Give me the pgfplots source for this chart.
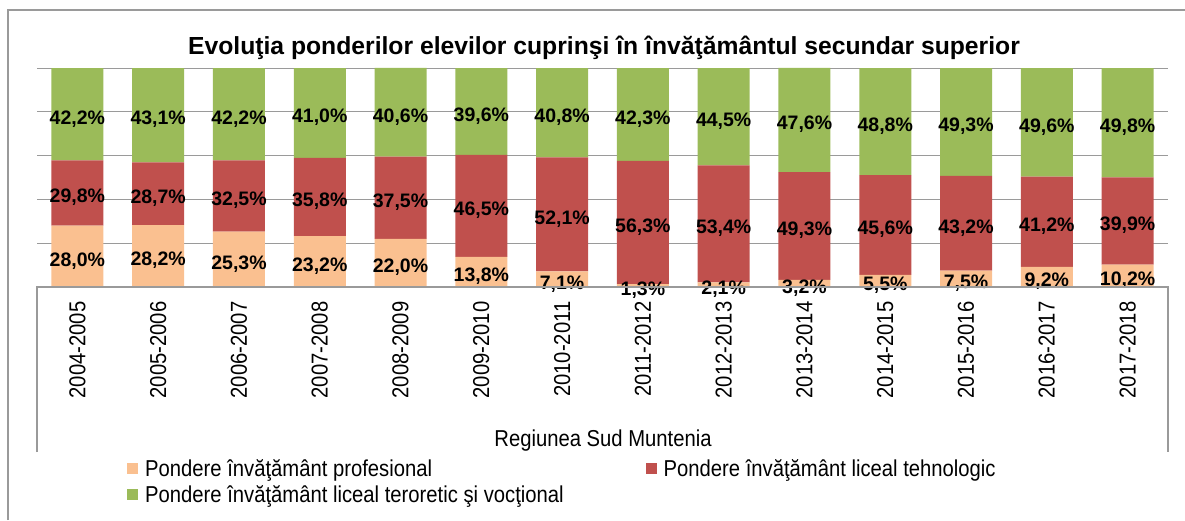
\documentclass[border=0pt]{standalone}
\usepackage{fontspec}
\setmainfont{Liberation Sans}
\newfontfamily\narrow{Liberation Sans}[FakeStretch=0.88]
\usepackage{pgfplots}
\pgfplotsset{compat=1.18}
\definecolor{profC}{HTML}{FAC090}
\definecolor{tehC}{HTML}{C0504D}
\definecolor{teoC}{HTML}{9BBB59}
\definecolor{gridC}{HTML}{9A9A9A}
\pgfplotsset{
  frame/.style={at={(37pt,233pt)},anchor=south west,
    width=1131pt,height=219pt,scale only axis,
    xmin=-0.5,xmax=13.5,ymin=0,ymax=100,clip=false},
  seglabel/.style={draw=none,mark=none,point meta=explicit,
    nodes near coords={\pgfmathprintnumber[fixed,fixed zerofill,precision=1,use comma,assume math mode=true]{\pgfplotspointmeta}\%},
    every node near coord/.append style={anchor=center,text=black,yshift=-4.5pt,
      font=\fontsize{19.5}{22}\selectfont\bfseries}},
}
\begin{document}
\begin{tikzpicture}
\useasboundingbox (0pt,0pt) rectangle (1185pt,520pt);
% outer chart frame
\draw[gridC,line width=1.2pt] (8pt,0pt) -- (8pt,510pt) -- (1185pt,510pt);
\node[anchor=base,font=\fontsize{24.7}{28}\selectfont\bfseries] at (604pt,465pt)
  {Evoluţia ponderilor elevilor cuprinşi în învăţământul secundar superior};
\begin{axis}[
  frame,
  ybar stacked,bar width=52pt,
  xtick={0,...,13},
  xticklabels={2004-2005,2005-2006,2006-2007,2007-2008,2008-2009,2009-2010,2010-2011,
    2011-2012,2012-2013,2013-2014,2014-2015,2015-2016,2016-2017,2017-2018},
  xticklabel style={rotate=90,anchor=east,font=\narrow\fontsize{23}{26}\selectfont},
  xticklabel shift=11pt,
  ytick={0,20,...,100},yticklabels={},
  major tick length=0pt,
  ymajorgrids,grid style={gridC,line width=1pt},
  axis line style={draw=none},
  legend columns=2,
  legend cell align=left,
  legend image code/.code={\fill[#1,draw=none] (0pt,-5.5pt) rectangle (11pt,5.5pt);},
  legend style={at={(87pt,-168pt)},anchor=north west,draw=none,fill=none,
    font=\narrow\fontsize{23}{26}\selectfont,
    row sep=4pt,
    /tikz/column 1/.style={column sep=5pt},
    /tikz/column 2/.style={column sep=80pt},
    /tikz/column 3/.style={column sep=5pt}},
]
\addplot[fill=profC,draw=none] coordinates {(0,28.0) (1,28.2) (2,25.3) (3,23.2) (4,22.0) (5,13.8) (6,7.1) (7,1.3) (8,2.1) (9,3.2) (10,5.5) (11,7.5) (12,9.2) (13,10.2)};
\addplot[fill=tehC,draw=none] coordinates {(0,29.8) (1,28.7) (2,32.5) (3,35.8) (4,37.5) (5,46.5) (6,52.1) (7,56.3) (8,53.4) (9,49.3) (10,45.6) (11,43.2) (12,41.2) (13,39.9)};
\addplot[fill=teoC,draw=none] coordinates {(0,42.2) (1,43.1) (2,42.2) (3,41.0) (4,40.6) (5,39.6) (6,40.8) (7,42.3) (8,44.5) (9,47.6) (10,48.8) (11,49.3) (12,49.6) (13,49.8)};
\legend{Pondere învăţământ profesional,Pondere învăţământ liceal tehnologic,Pondere învăţământ liceal teroretic şi vocţional}
\end{axis}
% value labels, centred in each segment (y = middle of segment, meta = share)
\begin{axis}[frame,hide axis]
\addplot[seglabel] coordinates {(0,14.0)[28.0] (1,14.1)[28.2] (2,12.65)[25.3] (3,11.6)[23.2] (4,11.0)[22.0] (5,6.9)[13.8] (6,3.55)[7.1] (7,0.65)[1.3] (8,1.05)[2.1] (9,1.6)[3.2] (10,2.75)[5.5] (11,3.75)[7.5] (12,4.6)[9.2] (13,5.1)[10.2]};
\addplot[seglabel] coordinates {(0,42.9)[29.8] (1,42.55)[28.7] (2,41.55)[32.5] (3,41.1)[35.8] (4,40.75)[37.5] (5,37.05)[46.5] (6,33.15)[52.1] (7,29.45)[56.3] (8,28.8)[53.4] (9,27.85)[49.3] (10,28.3)[45.6] (11,29.1)[43.2] (12,29.8)[41.2] (13,30.15)[39.9]};
\addplot[seglabel] coordinates {(0,78.9)[42.2] (1,78.45)[43.1] (2,78.9)[42.2] (3,79.5)[41.0] (4,79.8)[40.6] (5,80.1)[39.6] (6,79.6)[40.8] (7,78.75)[42.3] (8,77.75)[44.5] (9,76.3)[47.6] (10,75.5)[48.8] (11,75.35)[49.3] (12,75.2)[49.6] (13,75.0)[49.8]};
\end{axis}
% category axis box
\draw[gridC,line width=1.2pt] (37pt,68pt) -- (37pt,233pt) -- (1168pt,233pt) -- (1168pt,68pt);
\node[anchor=base,font=\narrow\fontsize{23}{26}\selectfont] at (603pt,74pt) {Regiunea Sud Muntenia};
\end{tikzpicture}
\end{document}
